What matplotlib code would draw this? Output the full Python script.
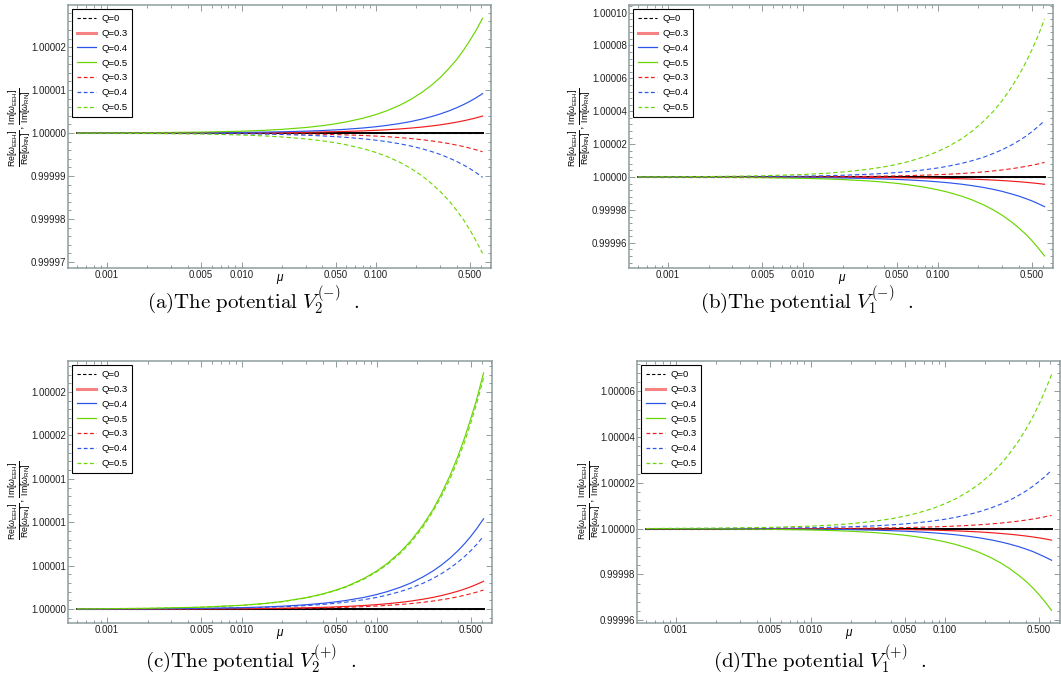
import matplotlib
matplotlib.use("Agg")
import matplotlib.pyplot as plt
from matplotlib.lines import Line2D
from matplotlib.ticker import FixedLocator, FixedFormatter, NullFormatter
import numpy as np

plt.rcParams['font.family'] = ['Liberation Sans', 'DejaVu Sans']
plt.rcParams['mathtext.fontset'] = 'custom'
plt.rcParams['mathtext.rm'] = 'Liberation Sans'
plt.rcParams['mathtext.it'] = 'Liberation Sans:italic'
plt.rcParams['mathtext.bf'] = 'Liberation Sans:bold'

# mu sample points
mu = [0.0006, 0.002, 0.005, 0.01, 0.015, 0.02, 0.03, 0.04, 0.05, 0.06, 0.08, 0.1,
      0.12, 0.15, 0.18, 0.22, 0.26, 0.3, 0.35, 0.4, 0.45, 0.5, 0.55, 0.62]
zero = [0.0] * len(mu)

# deviations from 1, in units of 1e-6
# (a) V2(-)
a_r_sol = [0.004, 0.013, 0.032, 0.064, 0.096, 0.127, 0.191, 0.255, 0.319, 0.382, 0.51, 0.637,
           0.764, 0.956, 1.15, 1.40, 1.66, 1.91, 2.23, 2.55, 2.87, 3.19, 3.50, 3.95]
a_b_sol = [0.009, 0.030, 0.074, 0.148, 0.222, 0.296, 0.444, 0.592, 0.74, 0.888, 1.18, 1.48,
           1.78, 2.22, 2.66, 3.26, 3.85, 4.44, 5.18, 5.92, 6.66, 7.4, 8.14, 9.18]
a_g_sol = [0.026, 0.086, 0.216, 0.431, 0.647, 0.862, 1.29, 1.72, 2.16, 2.59, 3.45, 4.31,
           5.17, 6.47, 7.76, 9.48, 11.2, 12.9, 15.1, 17.2, 19.4, 21.6, 23.7, 26.7]
a_r_dsh = [-0.004, -0.014, -0.035, -0.070, -0.105, -0.140, -0.211, -0.281, -0.351, -0.421, -0.562, -0.702,
           -0.842, -1.05, -1.26, -1.54, -1.83, -2.11, -2.46, -2.81, -3.16, -3.51, -3.86, -4.35]
a_b_dsh = [-0.010, -0.033, -0.083, -0.166, -0.249, -0.332, -0.498, -0.664, -0.83, -1.0, -1.33, -1.66,
           -1.99, -2.49, -2.99, -3.65, -4.32, -4.98, -5.81, -6.64, -7.47, -8.3, -9.13, -10.3]
a_g_dsh = [-0.027, -0.090, -0.226, -0.452, -0.678, -0.904, -1.36, -1.81, -2.26, -2.71, -3.62, -4.52,
           -5.42, -6.78, -8.14, -9.94, -11.8, -13.6, -15.8, -18.1, -20.3, -22.6, -24.9, -28.0]

# (b) V1(-)
b_r_sol = [-0.004, -0.014, -0.036, -0.071, -0.107, -0.142, -0.213, -0.284, -0.355, -0.426, -0.568, -0.71,
           -0.852, -1.07, -1.28, -1.56, -1.85, -2.13, -2.49, -2.84, -3.2, -3.55, -3.9, -4.4]
b_b_sol = [-0.017, -0.058, -0.145, -0.29, -0.435, -0.58, -0.87, -1.16, -1.45, -1.74, -2.32, -2.9,
           -3.48, -4.35, -5.22, -6.38, -7.54, -8.7, -10.2, -11.6, -13.1, -14.5, -16.0, -18.0]
b_g_sol = [-0.046, -0.155, -0.387, -0.774, -1.16, -1.55, -2.32, -3.10, -3.87, -4.64, -6.19, -7.74,
           -9.29, -11.6, -13.9, -17.0, -20.1, -23.2, -27.1, -31.0, -34.8, -38.7, -42.6, -48.0]
b_r_dsh = [0.009, 0.029, 0.072, 0.144, 0.215, 0.287, 0.431, 0.574, 0.718, 0.861, 1.15, 1.44,
           1.72, 2.15, 2.58, 3.16, 3.73, 4.31, 5.02, 5.74, 6.46, 7.18, 7.89, 8.9]
b_b_dsh = [0.033, 0.110, 0.276, 0.552, 0.828, 1.10, 1.66, 2.21, 2.76, 3.31, 4.42, 5.52,
           6.62, 8.28, 9.94, 12.1, 14.4, 16.6, 19.3, 22.1, 24.8, 27.6, 30.4, 34.2]
b_g_dsh = [0.093, 0.31, 0.774, 1.55, 2.32, 3.10, 4.64, 6.19, 7.74, 9.29, 12.4, 15.5,
           18.6, 23.2, 27.9, 34.1, 40.2, 46.4, 54.2, 61.9, 69.7, 77.4, 85.1, 96.0]

# (c) V2(+)
c_r_sol = [0.003, 0.010, 0.026, 0.052, 0.077, 0.103, 0.155, 0.206, 0.258, 0.31, 0.413, 0.516,
           0.619, 0.774, 0.929, 1.14, 1.34, 1.55, 1.81, 2.06, 2.32, 2.58, 2.84, 3.2]
c_b_sol = [0.010, 0.034, 0.084, 0.168, 0.252, 0.336, 0.504, 0.672, 0.84, 1.01, 1.34, 1.68,
           2.02, 2.52, 3.02, 3.70, 4.37, 5.04, 5.88, 6.72, 7.56, 8.4, 9.24, 10.4]
c_g_sol = [0.026, 0.088, 0.22, 0.439, 0.659, 0.878, 1.32, 1.76, 2.2, 2.63, 3.51, 4.39,
           5.27, 6.59, 7.9, 9.66, 11.4, 13.2, 15.4, 17.6, 19.8, 22.0, 24.1, 27.2]
c_r_dsh = [0.002, 0.007, 0.018, 0.036, 0.053, 0.071, 0.107, 0.142, 0.178, 0.213, 0.284, 0.355,
           0.426, 0.533, 0.639, 0.781, 0.923, 1.07, 1.24, 1.42, 1.6, 1.78, 1.95, 2.2]
c_b_dsh = [0.008, 0.027, 0.068, 0.135, 0.203, 0.27, 0.405, 0.54, 0.675, 0.81, 1.08, 1.35,
           1.62, 2.03, 2.43, 2.97, 3.51, 4.05, 4.73, 5.4, 6.08, 6.75, 7.43, 8.4]
c_g_dsh = [0.026, 0.086, 0.215, 0.429, 0.644, 0.858, 1.29, 1.72, 2.15, 2.57, 3.43, 4.29,
           5.15, 6.44, 7.72, 9.44, 11.2, 12.9, 15.0, 17.2, 19.3, 21.5, 23.6, 26.6]

# (d) V1(+)
d_r_sol = [-0.005, -0.016, -0.04, -0.081, -0.121, -0.161, -0.242, -0.322, -0.403, -0.484, -0.645, -0.806,
           -0.967, -1.21, -1.45, -1.77, -2.1, -2.42, -2.82, -3.22, -3.63, -4.03, -4.43, -5.0]
d_b_sol = [-0.013, -0.045, -0.112, -0.223, -0.335, -0.446, -0.669, -0.892, -1.12, -1.34, -1.78, -2.23,
           -2.68, -3.35, -4.01, -4.91, -5.8, -6.69, -7.81, -8.92, -10.0, -11.2, -12.3, -13.8]
d_g_sol = [-0.035, -0.115, -0.288, -0.576, -0.864, -1.15, -1.73, -2.3, -2.88, -3.46, -4.61, -5.76,
           -6.91, -8.64, -10.4, -12.7, -15.0, -17.3, -20.2, -23.0, -25.9, -28.8, -31.7, -35.7]
d_r_dsh = [0.006, 0.019, 0.047, 0.094, 0.14, 0.187, 0.281, 0.374, 0.468, 0.561, 0.748, 0.935,
           1.12, 1.4, 1.68, 2.06, 2.43, 2.81, 3.27, 3.74, 4.21, 4.68, 5.14, 5.8]
d_b_dsh = [0.025, 0.082, 0.206, 0.411, 0.617, 0.822, 1.23, 1.64, 2.06, 2.47, 3.29, 4.11,
           4.93, 6.17, 7.4, 9.04, 10.7, 12.3, 14.4, 16.4, 18.5, 20.6, 22.6, 25.5]
d_g_dsh = [0.065, 0.217, 0.543, 1.09, 1.63, 2.17, 3.26, 4.34, 5.43, 6.51, 8.68, 10.9,
           13.0, 16.3, 19.5, 23.9, 28.2, 32.6, 38.0, 43.4, 48.8, 54.3, 59.7, 67.3]

legend_labels = ['Q=0', 'Q=0.3', 'Q=0.4', 'Q=0.5', 'Q=0.3', 'Q=0.4', 'Q=0.5']

xticks = [0.001, 0.005, 0.01, 0.05, 0.1, 0.5]
xtick_labels = ['0.001', '0.005', '0.010', '0.050', '0.100', '0.500']
xminor = [6e-4, 7e-4, 8e-4, 9e-4, 2e-3, 3e-3, 4e-3, 6e-3, 7e-3, 8e-3, 9e-3,
          0.02, 0.03, 0.04, 0.06, 0.07, 0.08, 0.09, 0.2, 0.3, 0.4, 0.6, 0.7]

RED = '#f01c1c'
BLUE = '#2b55ea'
GREEN = '#6ad600'
FRAME = '#8e9c9c'
DASH = (0, (4, 2.5))

W, H = 1061, 689
fig = plt.figure(figsize=(W / 100, H / 100), dpi=100)


def panel(box, ylim, yt, ytl, ystep, curves, caption, cap_x, cap_y, lab_x, lab_y):
    l, t, r, b = box
    ax = fig.add_axes([l / W, 1 - b / H, (r - l) / W, (b - t) / H])
    x = np.array(mu)
    ax.plot(x, 1 + np.array(zero) * 1e-6, color='black', lw=1.4, zorder=2)
    ax.plot(x, 1 + np.array(zero) * 1e-6, color='black', lw=0.8, ls=DASH, zorder=2)
    for vals, col, dashed in curves:
        y = 1 + np.array(vals) * 1e-6
        if dashed:
            ax.plot(x, y, color=col, lw=0.8, ls=DASH, zorder=3)
        else:
            ax.plot(x, y, color=col, lw=0.85, zorder=3)
    ax.set_xscale('log')
    ax.set_xlim(10 ** -3.29, 10 ** -0.145)
    ax.set_ylim(1 + ylim[0] * 1e-6, 1 + ylim[1] * 1e-6)
    ax.xaxis.set_major_locator(FixedLocator(xticks))
    ax.xaxis.set_major_formatter(FixedFormatter(xtick_labels))
    ax.xaxis.set_minor_locator(FixedLocator(xminor))
    ax.xaxis.set_minor_formatter(NullFormatter())
    ax.yaxis.set_major_locator(FixedLocator([1 + v * 1e-6 for v in yt]))
    ax.yaxis.set_major_formatter(FixedFormatter(ytl))
    mn = np.arange(ylim[0] - ylim[0] % ystep, ylim[1], ystep)
    ax.yaxis.set_minor_locator(FixedLocator([1 + v * 1e-6 for v in mn]))
    ax.tick_params(which='both', direction='in', top=True, right=True, color=FRAME,
                   width=0.7, labelsize=7, labelcolor='#222222', pad=1.5)
    ax.tick_params(which='major', length=4)
    ax.tick_params(which='minor', length=2.2)
    for s in ax.spines.values():
        s.set_color(FRAME)
        s.set_linewidth(1.1)
    ax.annotate('μ', xy=(0.5, 0), xycoords='axes fraction', xytext=(0, -7),
                textcoords='offset points', ha='center', va='center',
                fontsize=8.5, style='italic')
    handles = [Line2D([], [], color='black', lw=0.8, ls=(0, (3, 2))),
               Line2D([], [], color=RED, lw=2.2, alpha=0.55),
               Line2D([], [], color=BLUE, lw=0.9),
               Line2D([], [], color=GREEN, lw=0.9),
               Line2D([], [], color=RED, lw=0.9, ls=(0, (3, 2))),
               Line2D([], [], color=BLUE, lw=0.9, ls=(0, (3, 2))),
               Line2D([], [], color=GREEN, lw=0.9, ls=(0, (3, 2)))]
    leg = ax.legend(handles, legend_labels, loc='upper left', fontsize=6.8,
                    labelspacing=0.62, handlelength=2.0, handletextpad=0.55,
                    borderpad=0.5, borderaxespad=0.45, fancybox=False, framealpha=1)
    leg.get_frame().set_edgecolor('black')
    leg.get_frame().set_linewidth(0.8)
    fig.text(lab_x / W, 1 - lab_y / H,
             r'$\frac{\mathrm{Re}[\omega_{\mathrm{EEH}}]}{\mathrm{Re}[\omega_{\mathrm{RN}}]},'
             r'\frac{\mathrm{Im}[\omega_{\mathrm{EEH}}]}{\mathrm{Im}[\omega_{\mathrm{RN}}]}$',
             rotation=90, ha='center', va='center', fontsize=9)
    fig.text(cap_x / W, 1 - cap_y / H, caption, ha='center', va='baseline',
             fontsize=15, math_fontfamily='cm')
    return ax


panel((68, 5, 491, 268), (-31.4, 29.8), [-30, -20, -10, 0, 10, 20],
      ['0.99997', '0.99998', '0.99999', '1.00000', '1.00001', '1.00002'], 2,
      [(a_r_sol, RED, False), (a_b_sol, BLUE, False), (a_g_sol, GREEN, False),
       (a_r_dsh, RED, True), (a_b_dsh, BLUE, True), (a_g_dsh, GREEN, True)],
      r'$\mathrm{(a)The\ potential\ }V_2^{(-)}\ \ .$', 253, 308, 20, 127)

panel((629, 5, 1053, 268), (-55.3, 104.6), [-40, -20, 0, 20, 40, 60, 80, 100],
      ['0.99996', '0.99998', '1.00000', '1.00002', '1.00004', '1.00006', '1.00008', '1.00010'], 4,
      [(b_r_sol, RED, False), (b_b_sol, BLUE, False), (b_g_sol, GREEN, False),
       (b_r_dsh, RED, True), (b_b_dsh, BLUE, True), (b_g_dsh, GREEN, True)],
      r'$\mathrm{(b)The\ potential\ }V_1^{(-)}\ \ .$', 807, 308, 580, 127)

panel((68, 361, 492, 623), (-1.6, 28.57), [0, 5, 10, 15, 20, 25],
      ['1.00000', '1.00001', '1.00001', '1.00001', '1.00002', '1.00002'], 1,
      [(c_r_sol, RED, False), (c_b_sol, BLUE, False), (c_g_sol, GREEN, False),
       (c_r_dsh, RED, True), (c_b_dsh, BLUE, True), (c_g_dsh, GREEN, True)],
      r'$\mathrm{(c)The\ potential\ }V_2^{(+)}\ \ .$', 251, 667, 20, 500)

panel((637, 361, 1060, 623), (-41.2, 73.2), [-40, -20, 0, 20, 40, 60],
      ['0.99996', '0.99998', '1.00000', '1.00002', '1.00004', '1.00006'], 4,
      [(d_r_sol, RED, False), (d_b_sol, BLUE, False), (d_g_sol, GREEN, False),
       (d_r_dsh, RED, True), (d_b_dsh, BLUE, True), (d_g_dsh, GREEN, True)],
      r'$\mathrm{(d)The\ potential\ }V_1^{(+)}\ \ .$', 820, 667, 590, 500)

fig.savefig('out.png', dpi=100)
